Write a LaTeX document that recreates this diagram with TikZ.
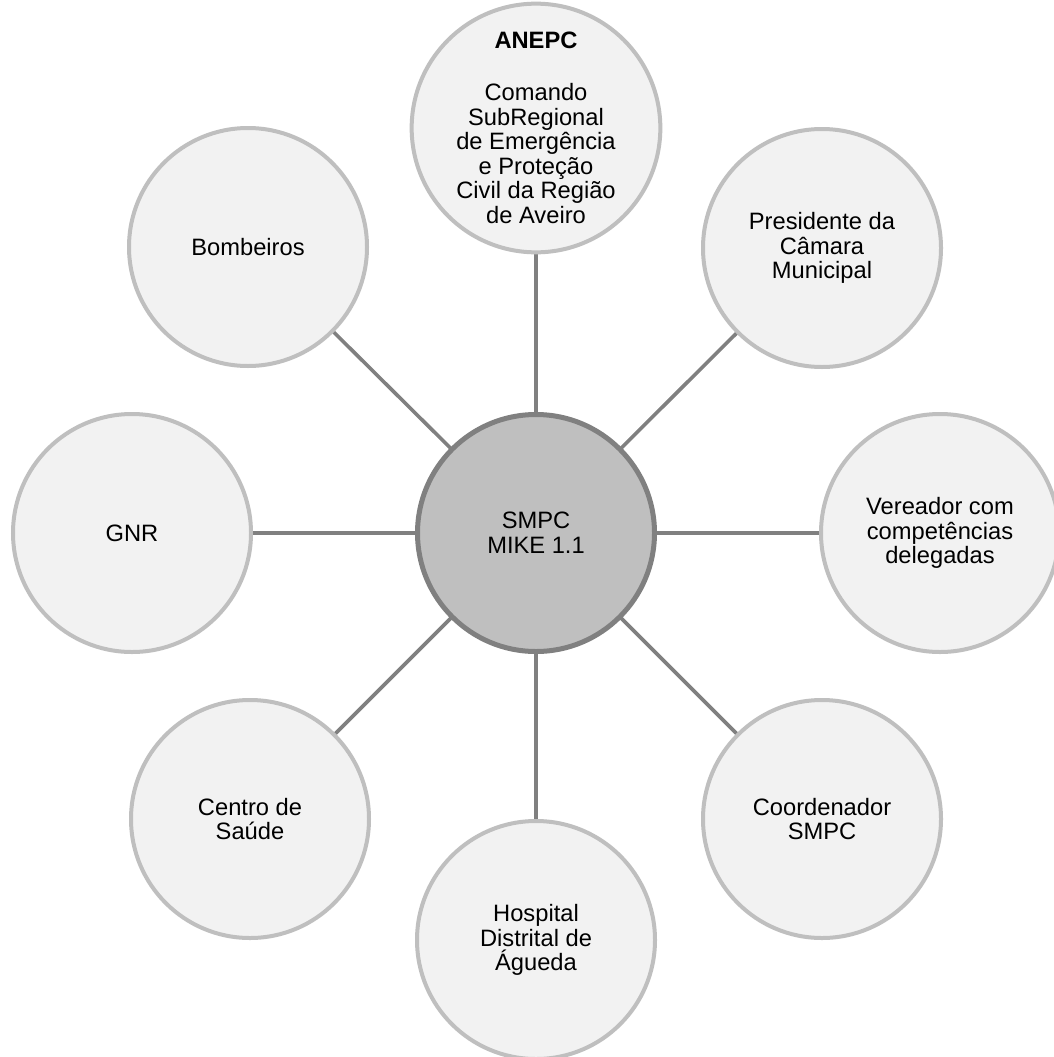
\documentclass[tikz,border=0pt]{standalone}
\usepackage{fontspec}
\setmainfont{Liberation Sans}
\definecolor{hubfill}{HTML}{BFBFBF}
\definecolor{hubline}{HTML}{808080}
\definecolor{satfill}{HTML}{F2F2F2}
\definecolor{satline}{HTML}{BFBFBF}
\tikzset{
  hub/.style={circle, draw=hubline, fill=hubfill, line width=5pt, minimum size=237pt, inner sep=0pt, align=center, font=\fontsize{23.7pt}{24.6pt}\selectfont},
  sat/.style={circle, draw=satline, fill=satfill, line width=4pt, minimum size=238pt, inner sep=0pt, align=center, font=\fontsize{23.7pt}{24.6pt}\selectfont},
  link/.style={draw=hubline, line width=3.6pt}
}
\begin{document}
\begin{tikzpicture}[x=1pt,y=-1pt]
\useasboundingbox (0,0) rectangle (1053,1057);
\fill[white] (0,0) rectangle (1053,1057);
% connectors first (behind circles)
\coordinate (cc) at (536,533);
\coordinate (ct) at (536,128);
\coordinate (ctr) at (822,248);
\coordinate (cr) at (940,533);
\coordinate (cbr) at (822,819);
\coordinate (cb) at (536,940);
\coordinate (cbl) at (250,819);
\coordinate (cl) at (132,533);
\coordinate (ctl) at (248,247);
\foreach \s in {ct,ctr,cr,cbr,cb,cbl,cl,ctl}{\draw[link] (cc) -- (\s);}
\node[sat] (top) at (ct) {\textbf{ANEPC}\\[27pt]Comando\\SubRegional\\de Emergência\\e Proteção\\Civil da Região\\de Aveiro};
\node[sat] (tr) at (ctr) {Presidente da\\Câmara\\Municipal};
\node[sat] (r) at (cr) {Vereador com\\competências\\delegadas};
\node[sat] (br) at (cbr) {Coordenador\\SMPC};
\node[sat] (b) at (cb) {Hospital\\Distrital de\\Águeda};
\node[sat] (bl) at (cbl) {Centro de\\Saúde};
\node[sat] (l) at (cl) {GNR};
\node[sat] (tl) at (ctl) {Bombeiros};
\node[hub] (hub) at (cc) {SMPC\\MIKE 1.1};
\end{tikzpicture}
\end{document}
